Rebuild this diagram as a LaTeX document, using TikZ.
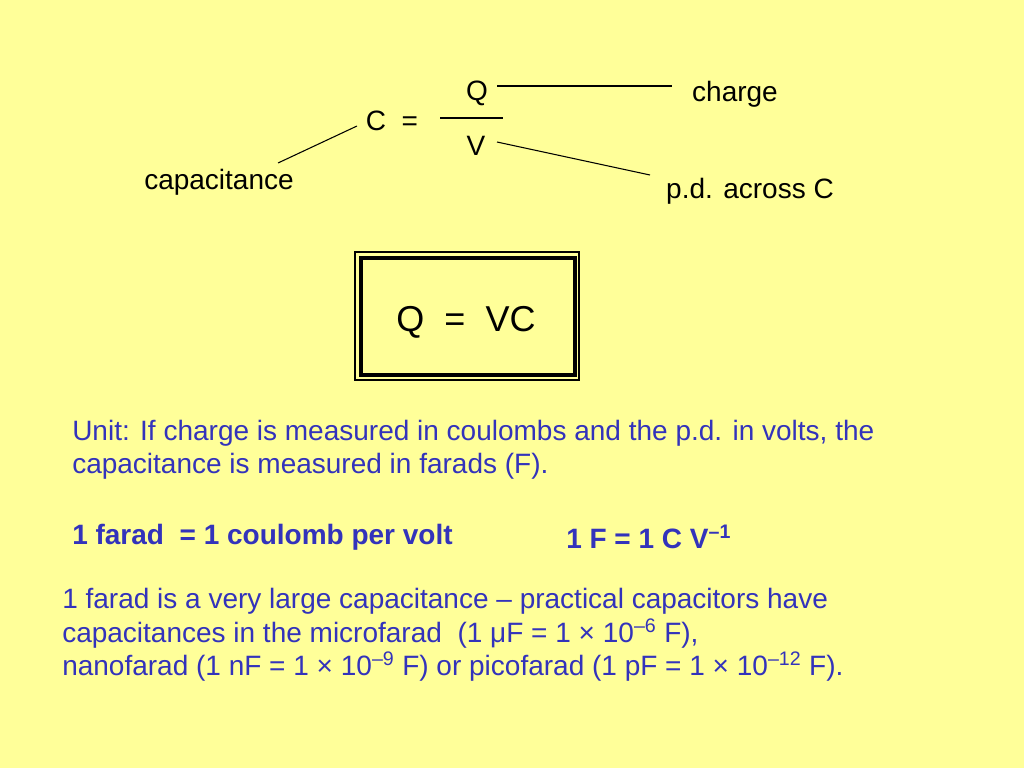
\documentclass[tikz,border=0pt]{standalone}
\usepackage{fontspec}
\setmainfont{Liberation Sans}
\definecolor{bg}{HTML}{FFFF99}
\definecolor{bl}{HTML}{3333BB}
\begin{document}
\begin{tikzpicture}[x=0.75pt,y=-0.75pt,
  lbl/.style={inner sep=0pt,font=\fontsize{21}{25}\selectfont},
  para/.style={inner sep=0pt,anchor=west,text=bl,font=\fontsize{21}{25}\selectfont},
  ln/.style={line width=0.8pt}]
\fill[bg] (0,0) rectangle (1024,768);
\useasboundingbox (0,0) rectangle (1024,768);
\node[lbl] (q) at (477,93) {Q};
\node[lbl] (v) at (476,146) {V};
\node[lbl] (c) at (392,121) {C\ \ =};
\node[lbl] (ch) at (735,94) {charge};
\node[lbl] (cap) at (219,182) {capacitance};
\node[lbl] (pd) at (750,191) {p.d. across C};
\coordinate (b1) at (440,118); \coordinate (b2) at (503,118);
\draw[ln] (b1)--(b2);
\coordinate (qa) at (497,86); \coordinate (qb) at (672,86);
\draw[ln] (qa)--(qb);
\coordinate (va) at (497,142); \coordinate (vb) at (650,175);
\draw[ln] (va)--(vb);
\coordinate (ca) at (278,163); \coordinate (cb) at (357,126);
\draw[ln] (ca)--(cb);
\draw[line width=0.8pt] (355,252) rectangle (579,380);
\draw[line width=3pt] (361,258) rectangle (575,375);
\node[inner sep=0pt,font=\fontsize{27}{30}\selectfont] (eq) at (466,322) {Q\ \ = \ VC};
\node[para] (u1) at (72,433) {Unit: If charge is measured in coulombs and the p.d. in volts, the};
\node[para] (u2) at (72,466) {capacitance is measured in farads (F).};
\node[para,font=\fontsize{21}{25}\selectfont\bfseries] (f1) at (72,537) {1 farad\ \ = 1 coulomb per volt};
\node[para,font=\fontsize{21}{25}\selectfont\bfseries] (f2) at (566,537) {1 F = 1 C V\textsuperscript{–1}};
\node[para] (p1) at (62,601) {1 farad is a very large capacitance – practical capacitors have};
\node[para] (p2) at (62,634) {capacitances in the microfarad\ \ (1 μF = 1 × 10\textsuperscript{–6} F),};
\node[para] (p3) at (62,667) {nanofarad (1 nF = 1 × 10\textsuperscript{–9} F) or picofarad (1 pF = 1 × 10\textsuperscript{–12} F).};
\end{tikzpicture}
\end{document}
